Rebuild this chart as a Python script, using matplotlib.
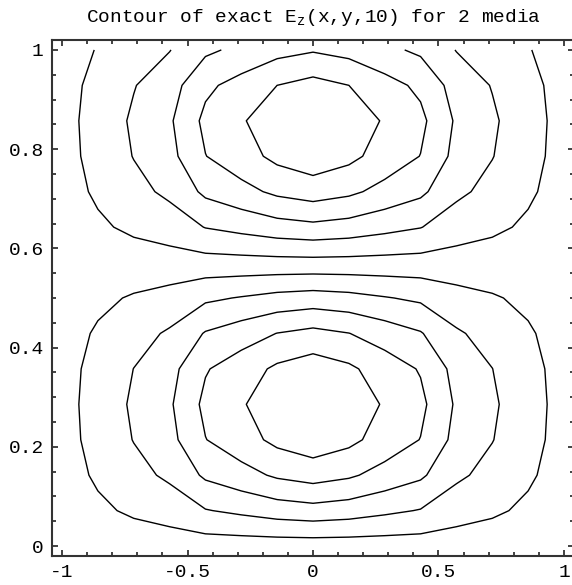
import numpy as np
import matplotlib.pyplot as plt

plt.rcParams['font.family'] = ['Liberation Mono', 'DejaVu Sans']
plt.rcParams['mathtext.fontset'] = 'custom'
plt.rcParams['mathtext.rm'] = 'Liberation Mono'
plt.rcParams['mathtext.it'] = 'Liberation Mono'
plt.rcParams['mathtext.bf'] = 'Liberation Mono:bold'

# sample grid (15 x 15 plot points), field = y-profile * x-profile
x_nodes = np.linspace(-1, 1, 15)
y_nodes = np.linspace(0, 1, 15)
x_profile = [0.03, 0.16, 0.30, 0.43, 0.68, 0.80, 0.93, 1.0,
             0.93, 0.80, 0.68, 0.43, 0.30, 0.16, 0.03]
y_profile = [0.0, 0.387, 0.713, 0.929, 1.0, 0.915, 0.688, 0.355,
             -0.035, -0.410, -0.724, -0.930, -1.0, -0.88, -0.62]
n_contours = 10

x_ticks = [-1, -0.5, 0, 0.5, 1]
x_labels = ["-1", "-0.5", "0", "0.5", "1"]
y_ticks = [0, 0.2, 0.4, 0.6, 0.8, 1]
y_labels = ["0", "0.2", "0.4", "0.6", "0.8", "1"]

Z = np.outer(y_profile, x_profile)
zmin, zmax = Z.min(), Z.max()
levels = [zmin + (zmax - zmin) * k / (n_contours + 1) for k in range(1, n_contours + 1)]

fig = plt.figure(figsize=(5.72, 5.85), dpi=100)
ax = fig.add_axes([52 / 572, 29 / 585, 522 / 572, 516 / 585])
ax.contour(x_nodes, y_nodes, Z, levels=levels, colors='black',
           linewidths=1.0, linestyles='solid')

ax.set_xlim(-1.04, 1.04)
ax.set_ylim(-0.02, 1.02)
ax.set_xticks(x_ticks)
ax.set_xticklabels(x_labels)
ax.set_yticks(y_ticks)
ax.set_yticklabels(y_labels)
ax.set_xticks(np.arange(-1, 1.01, 0.1), minor=True)
ax.set_yticks(np.arange(0, 1.01, 0.05), minor=True)
ax.tick_params(which='both', direction='in', top=True, right=True,
               width=1.2, labelsize=14, color='#222222')
ax.tick_params(which='major', length=4, pad=6)
ax.tick_params(which='minor', length=3)
for s in ax.spines.values():
    s.set_linewidth(1.5)
    s.set_color('#333333')

ax.set_title(r"Contour of exact E$_{z}$(x,y,10) for 2 media", fontsize=14, pad=13)

fig.savefig("out.png")
